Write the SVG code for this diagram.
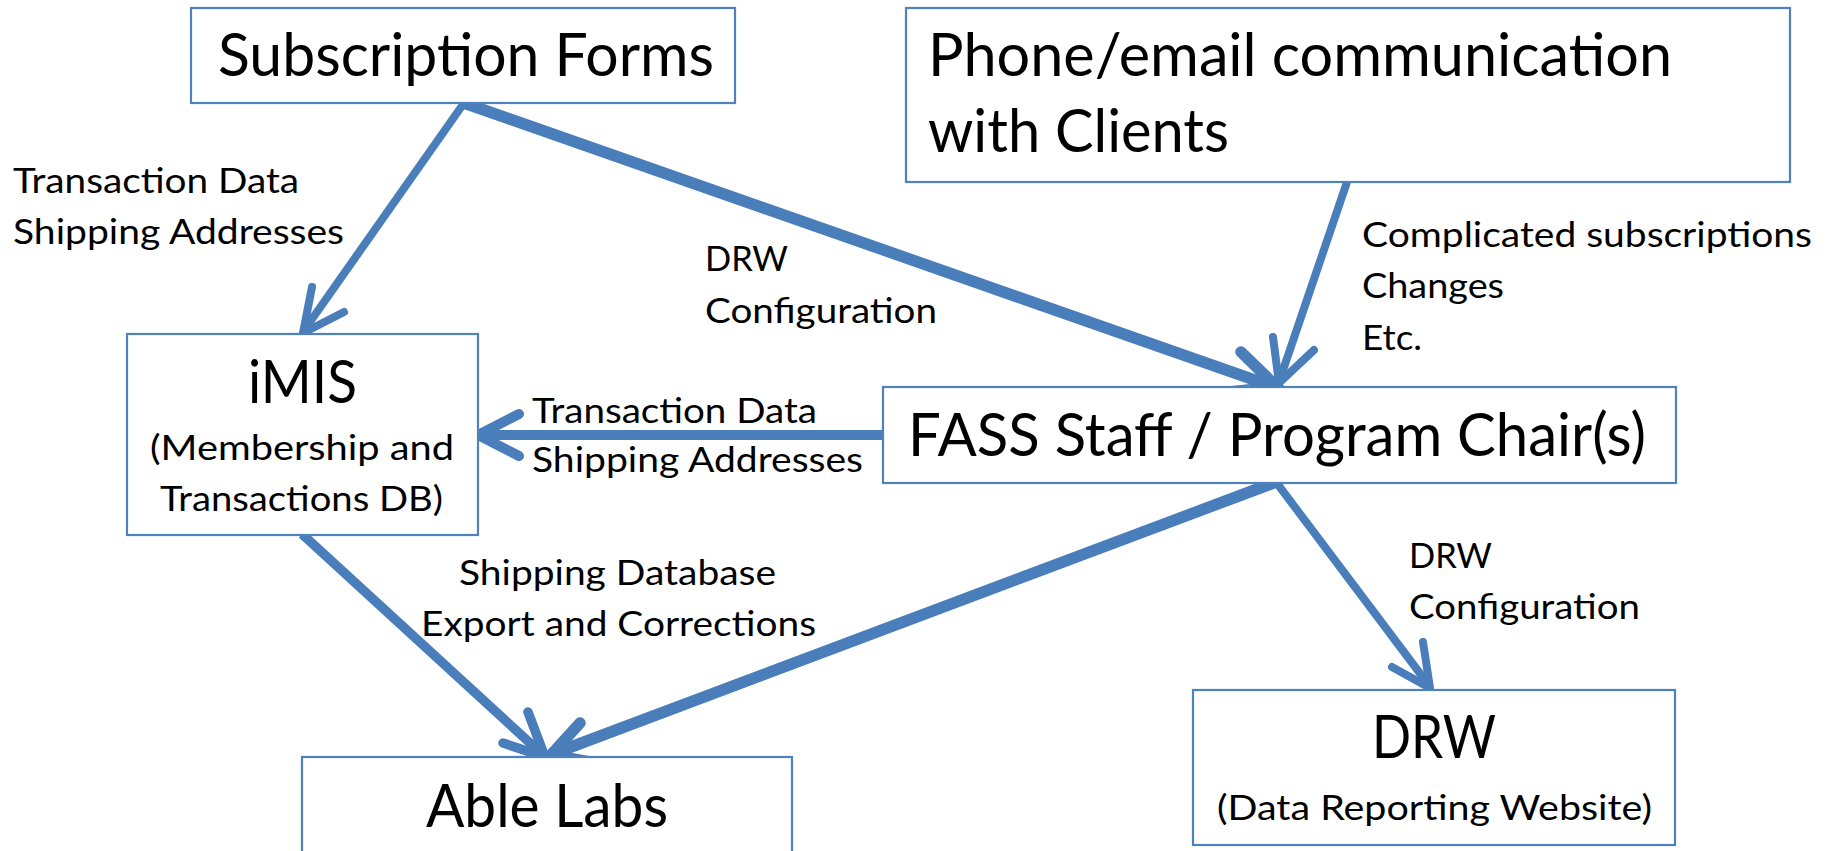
<svg xmlns="http://www.w3.org/2000/svg" width="1829" height="851" viewBox="0 0 1829 851">
<style>
.box{fill:#fff;stroke:#4F81BD;stroke-width:2.2}
.t{font-family:Lato,"Open Sans","Liberation Sans",sans-serif;fill:#000}
.big{font-size:60px}
.mid{font-size:35px}
.lab{font-size:35px}
.ln{fill:none;stroke:#4A7EBB;stroke-linecap:butt}
.hd{fill:none;stroke:#4A7EBB;stroke-linecap:round;stroke-linejoin:miter;stroke-miterlimit:10}
</style>
<rect width="1829" height="851" fill="#fff"/>
<g id="connectors">
<path class="ln" stroke-width="8" d="M464,103 L305,329"/>
<path class="hd" stroke-width="8" d="M312,287 L303,333 L344,312"/>
<path class="ln" stroke-width="11.5" d="M464,103 L1272,386"/>
<path class="hd" stroke-width="11.5" d="M1241,352 L1277,387 L1229,392"/>
<path class="ln" stroke-width="8" d="M1347,182 L1280,379"/>
<path class="hd" stroke-width="8" d="M1273,337 L1279,383 L1314,350"/>
<path class="ln" stroke-width="10" d="M883,435 L483,435"/>
<path class="hd" stroke-width="10" d="M519,414 L478,435 L519,456"/>
<path class="ln" stroke-width="9.5" d="M302,534 L542,754"/>
<path class="hd" stroke-width="9.5" d="M528,712 L545,757 L503,743"/>
<path class="ln" stroke-width="11.5" d="M1276,482 L555,753"/>
<path class="hd" stroke-width="11.5" d="M580,723 L551,755 L595,763"/>
<path class="ln" stroke-width="8" d="M1276,482 L1428,684"/>
<path class="hd" stroke-width="8" d="M1423,642 L1430,688 L1392,667"/>
</g>
<g id="labels">
<text class="t lab" x="13" y="193" textLength="286" lengthAdjust="spacingAndGlyphs">Transaction Data</text>
<text class="t lab" x="13" y="244" textLength="331" lengthAdjust="spacingAndGlyphs">Shipping Addresses</text>
<text class="t lab" x="705" y="271" textLength="83" lengthAdjust="spacingAndGlyphs">DRW</text>
<text class="t lab" x="705" y="323" textLength="232" lengthAdjust="spacingAndGlyphs">Configuration</text>
<text class="t lab" x="532" y="423" textLength="285" lengthAdjust="spacingAndGlyphs">Transaction Data</text>
<text class="t lab" x="532" y="472" textLength="331" lengthAdjust="spacingAndGlyphs">Shipping Addresses</text>
<text class="t lab" x="1362" y="247" textLength="450" lengthAdjust="spacingAndGlyphs">Complicated subscriptions</text>
<text class="t lab" x="1362" y="298" textLength="142" lengthAdjust="spacingAndGlyphs">Changes</text>
<text class="t lab" x="1362" y="350" textLength="60" lengthAdjust="spacingAndGlyphs">Etc.</text>
<text class="t lab" x="459" y="585" textLength="317" lengthAdjust="spacingAndGlyphs">Shipping Database</text>
<text class="t lab" x="421" y="636" textLength="395" lengthAdjust="spacingAndGlyphs">Export and Corrections</text>
<text class="t lab" x="1409" y="568" textLength="83" lengthAdjust="spacingAndGlyphs">DRW</text>
<text class="t lab" x="1409" y="619" textLength="231" lengthAdjust="spacingAndGlyphs">Configuration</text>
</g>
<g id="subscription-forms">
<rect class="box" x="191" y="8" width="544" height="95"/>
<text class="t big" x="218" y="76" textLength="496" lengthAdjust="spacingAndGlyphs">Subscription Forms</text>
</g>
<g id="phone-email">
<rect class="box" x="906" y="8" width="884" height="174"/>
<text class="t big" x="928" y="76" textLength="744" lengthAdjust="spacingAndGlyphs">Phone/email communication</text>
<text class="t big" x="928" y="152" textLength="301" lengthAdjust="spacingAndGlyphs">with Clients</text>
</g>
<g id="imis">
<rect class="box" x="127" y="334" width="351" height="201"/>
<text class="t big" x="248" y="403" textLength="109" lengthAdjust="spacingAndGlyphs">iMIS</text>
<text class="t mid" x="150" y="460" textLength="304" lengthAdjust="spacingAndGlyphs">(Membership and</text>
<text class="t mid" x="160" y="511" textLength="283" lengthAdjust="spacingAndGlyphs">Transactions DB)</text>
</g>
<g id="fass-staff">
<rect class="box" x="883" y="387" width="793" height="96"/>
<text class="t big" x="908" y="456" textLength="738" lengthAdjust="spacingAndGlyphs">FASS Staff / Program Chair(s)</text>
</g>
<g id="able-labs">
<rect class="box" x="302" y="757" width="490" height="110"/>
<text class="t big" x="426" y="827" textLength="242" lengthAdjust="spacingAndGlyphs">Able Labs</text>
</g>
<g id="drw">
<rect class="box" x="1193" y="690" width="482" height="155"/>
<text class="t big" x="1372" y="758" textLength="124" lengthAdjust="spacingAndGlyphs">DRW</text>
<text class="t mid" x="1217" y="820" textLength="435" lengthAdjust="spacingAndGlyphs">(Data Reporting Website)</text>
</g>
</svg>
